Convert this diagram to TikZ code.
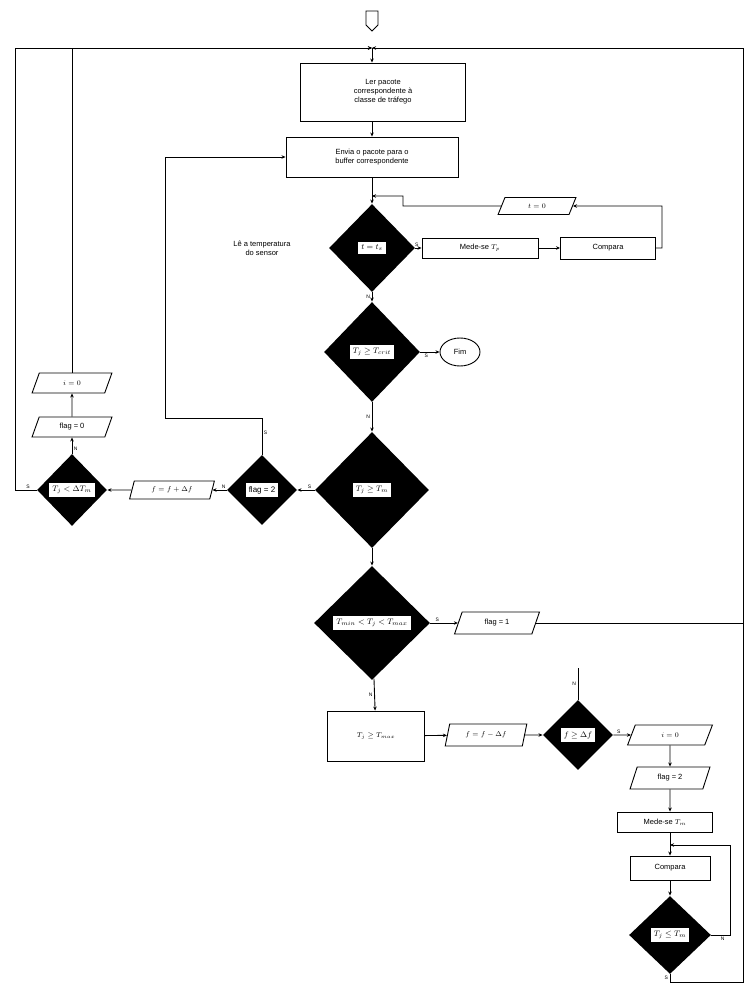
\documentclass[tikz,border=0pt]{standalone}
\usepackage{fontspec}
\setmainfont{Liberation Sans}
\usetikzlibrary{shapes.geometric,shapes.symbols,arrows.meta}
\newcommand{\wbox}[1]{{\setlength{\fboxsep}{3pt}\colorbox{white}{#1}}}
\begin{document}
\begin{tikzpicture}[x=1pt, y=-1pt, >={Stealth[length=4pt,width=3.5pt]}, line width=.9pt,
  every node/.style={font=\fontsize{7.5}{9}\selectfont},
  proc/.style={draw, align=center, inner sep=1pt},
  io/.style={trapezium, trapezium left angle=72, trapezium right angle=108, trapezium stretches=true, draw, inner sep=1pt},
  dec/.style={diamond, fill=black, inner sep=0pt, font=\fontsize{8}{9}\selectfont},
  yn/.style={font=\fontsize{5}{6}\selectfont, inner sep=1.5pt}]
\useasboundingbox (0,0) rectangle (748,987);

% inicio
\node[signal, signal to=south, draw, minimum width=12pt, minimum height=14pt, inner sep=0pt] (ini) at (372,18) {};
\coordinate (jtop) at (372,48);
\node[proc, minimum width=165pt, minimum height=58pt] (ler) at (383,92) {Ler pacote\\correspondente à\\classe de tráfego};
\node[proc, minimum width=172pt, minimum height=40pt] (env) at (372,157) {Envia o pacote para o\\buffer correspondente};
\coordinate (j1) at (372,196);
\node[dec, minimum width=86pt, minimum height=88pt] (d1) at (372,248) {\wbox{$t = t_s$}};
\node[align=center] (lbl) at (262,248) {Lê a temperatura\\do sensor};
\node[proc, minimum width=116pt, minimum height=20pt] (mede) at (480,248) {Mede-se $T_p$};
\node[proc, minimum width=95pt, minimum height=22pt] (comp1) at (608,248) {Compara};
\node[io, minimum width=78pt, minimum height=17pt] (t0) at (537,206) {$t = 0$};
\coordinate (c1) at (662,206);
\coordinate (c2) at (403,206);

% verificacoes
\node[dec, minimum width=96pt, minimum height=100pt] (d2) at (372,352) {\wbox{$T_j \geq T_{crit}$}};
\node[ellipse, draw, minimum width=40pt, minimum height=28pt, inner sep=0pt] (fim) at (460,352) {Fim};
\node[dec, minimum width=114pt, minimum height=116pt] (d3) at (372,490) {\wbox{$T_j \geq T_m$}};
\node[dec, minimum width=70pt, minimum height=70pt] (d4) at (262,490) {\wbox{flag = 2}};
\node[io, minimum width=85pt, minimum height=18pt] (fmais) at (172,490) {$f = f + \Delta f$};
\node[dec, minimum width=70pt, minimum height=72pt] (d5) at (72,490) {\wbox{$T_j < \Delta T_m$}};
\node[io, minimum width=80pt, minimum height=20pt] (flag0) at (72,427) {flag = 0};
\node[io, minimum width=80pt, minimum height=20pt] (i0a) at (72,383) {$i = 0$};
\coordinate (c3) at (165,418);
\coordinate (c5) at (15,490);

\node[dec, minimum width=116pt, minimum height=114pt] (d6) at (372,623) {\wbox{$T_{min} < T_j < T_{max}$}};
\node[io, minimum width=85pt, minimum height=22pt] (flag1) at (497,623) {flag = 1};
\coordinate (c6) at (743,623);
\node[proc, minimum width=97pt, minimum height=50pt] (tm) at (376,736) {$T_j \geq T_{max}$};
\node[io, minimum width=82pt, minimum height=22pt] (fmenos) at (486,735) {$f = f - \Delta f$};
\node[dec, minimum width=70pt, minimum height=70pt] (d7) at (578,735) {\wbox{$f \geq \Delta f$}};
\coordinate (c9) at (578,668);
\node[io, minimum width=85pt, minimum height=20pt] (i0b) at (670,735) {$i = 0$};
\node[io, minimum width=80pt, minimum height=22pt] (flag2) at (670,778) {flag = 2};
\node[proc, minimum width=95pt, minimum height=20pt] (mede2) at (665,822) {Mede-se $T_m$};
\coordinate (jc) at (670,845);
\node[proc, minimum width=80pt, minimum height=24pt] (comp2) at (670,868) {Compara};
\node[dec, minimum width=82pt, minimum height=78pt] (d8) at (670,935) {\wbox{$T_j \leq T_m$}};
\coordinate (c8) at (730,935);
\coordinate (c7) at (670,982);

% ligacoes
\draw[->] (jtop) -- (jtop |- ler.north);
\draw[->] (jtop |- ler.south) -- (env);
\draw[->] (env) -- (d1);
\draw[->] (d1) -- node[yn, above, pos=.2]{S} (mede);
\draw[->] (mede) -- (comp1);
\draw[->] (comp1.east) -| (c1) -- (t0.east);
\draw[->] (t0.west) -- (c2) |- (j1);
\draw[->] (d1) -- node[yn, left, pos=.5]{N} (d2);
\draw[->] (d2) -- node[yn, below, pos=.3]{S} (fim);
\draw[->] (d2) -- node[yn, left, pos=.5]{N} (d3);
\draw[->] (d3) -- node[yn, above, pos=.3]{S} (d4);
\draw[->] (d4.north) |- node[yn, right, pos=.3]{S} (c3) |- (env.west);
\draw[->] (d4) -- node[yn, above, pos=.2]{N} (fmais);
\draw[->] (fmais) -- (d5);
\draw[->] (d5) -- node[yn, right, pos=.3]{N} (flag0);
\draw[->] (flag0) -- (i0a);
\draw[->] (i0a) |- (jtop);
\draw[->] (d5.west) -- node[yn, above, pos=.4]{S} (c5) |- (jtop);
\draw[->] (d3) -- (d6);
\draw[->] (d6) -- node[yn, above, pos=.25]{S} (flag1);
\draw[->] (flag1) -- (c6) |- (jtop);
\draw[->] (d6) -- node[yn, left, pos=.5]{N} (tm);
\draw[->] (tm) -- (fmenos);
\draw[->] (fmenos) -- (d7);
\draw (d7) -- node[yn, left, pos=.5]{N} (c9);
\draw[->] (d7) -- node[yn, above, pos=.3]{S} (i0b);
\draw[->] (i0b) -- (flag2);
\draw[->] (flag2) -- (flag2 |- mede2.north);
\draw (flag2 |- mede2.south) -- (jc);
\draw[->] (jc) -- (comp2);
\draw[->] (comp2) -- (d8);
\draw[->] (d8.east) -- node[yn, below, pos=.6]{N} (c8) |- (jc);
\draw (d8.south) -- node[yn, left, pos=.5]{S} (c7) -| (c6);
\end{tikzpicture}
\end{document}
